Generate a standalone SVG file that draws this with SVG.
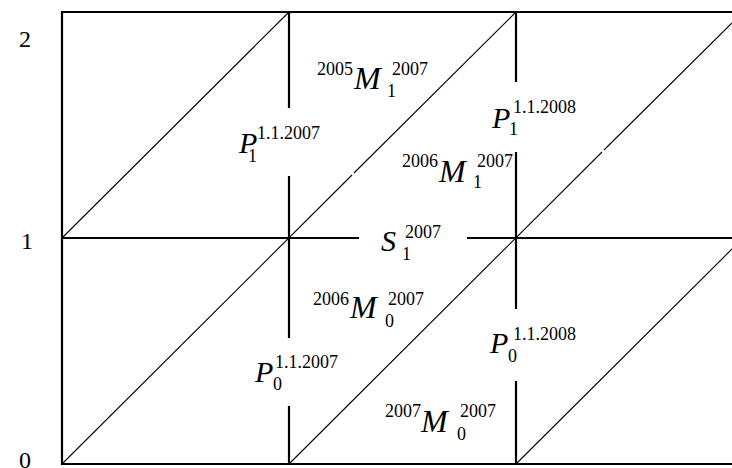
<svg xmlns="http://www.w3.org/2000/svg" width="732" height="468" viewBox="0 0 732 468">
<style>
.thick{stroke:#000;stroke-width:2.2;fill:none}
.thin{stroke:#000;stroke-width:1.1;fill:none}
.big{font-family:"Times New Roman","Liberation Serif",Times,serif;font-style:italic;font-size:30px}
.bigm{font-family:"Times New Roman","Liberation Serif",Times,serif;font-style:italic;font-size:32px}
.sm{font-family:"Times New Roman","Liberation Serif",Times,serif;font-size:18px}
.ax{font-family:"Times New Roman","Liberation Serif",Times,serif;font-size:24px;text-anchor:middle}
</style>
<rect width="732" height="468" fill="#fff"/>
<g id="connectors">
<line class="thick" x1="62" y1="12" x2="732" y2="12"/>
<line class="thick" x1="62" y1="464" x2="732" y2="464"/>
<line class="thick" x1="62" y1="11" x2="62" y2="465"/>
<line class="thick" x1="62" y1="238" x2="359" y2="238"/>
<line class="thick" x1="467" y1="238" x2="732" y2="238"/>
<line class="thick" x1="289" y1="12" x2="289" y2="108"/>
<line class="thick" x1="289" y1="176" x2="289" y2="338"/>
<line class="thick" x1="289" y1="406" x2="289" y2="464"/>
<line class="thick" x1="516" y1="12" x2="516" y2="82"/>
<line class="thick" x1="516" y1="152" x2="516" y2="309"/>
<line class="thick" x1="516" y1="381" x2="516" y2="464"/>
<line class="thin" x1="62" y1="238" x2="289" y2="12"/>
<line class="thin" x1="62" y1="464" x2="352" y2="175"/>
<line class="thin" x1="354" y1="173" x2="516" y2="12"/>
<line class="thin" x1="289" y1="464" x2="602" y2="152"/>
<line class="thin" x1="604" y1="150" x2="732" y2="23"/>
<line class="thin" x1="516" y1="464" x2="732" y2="249"/>
</g>
<g id="axis">
<text class="ax" x="25" y="47">2</text>
<text class="ax" x="27" y="249">1</text>
<text class="ax" x="25" y="468">0</text>
</g>
<g id="P1-2007">
<text class="big" x="239" y="153">P</text>
<text class="sm" x="257" y="139">1.1.2007</text>
<text class="sm" x="248" y="162">1</text>
</g>
<g id="M1-2005">
<text class="sm" x="317" y="75">2005</text>
<text class="bigm" x="354" y="89">M</text>
<text class="sm" x="392" y="75">2007</text>
<text class="sm" x="387" y="97">1</text>
</g>
<g id="P1-2008">
<text class="big" x="492" y="128">P</text>
<text class="sm" x="513" y="113">1.1.2008</text>
<text class="sm" x="509" y="135">1</text>
</g>
<g id="M1-2006">
<text class="sm" x="402" y="167">2006</text>
<text class="bigm" x="439" y="182">M</text>
<text class="sm" x="477" y="167">2007</text>
<text class="sm" x="473" y="188">1</text>
</g>
<g id="S1-2007">
<text class="big" x="381" y="251">S</text>
<text class="sm" x="405" y="238">2007</text>
<text class="sm" x="402" y="260">1</text>
</g>
<g id="M0-2006">
<text class="sm" x="313" y="305">2006</text>
<text class="bigm" x="350" y="318">M</text>
<text class="sm" x="388" y="305">2007</text>
<text class="sm" x="385" y="327">0</text>
</g>
<g id="P0-2007">
<text class="big" x="255" y="382">P</text>
<text class="sm" x="275" y="368">1.1.2007</text>
<text class="sm" x="273" y="390">0</text>
</g>
<g id="P0-2008">
<text class="big" x="490" y="353">P</text>
<text class="sm" x="513" y="340">1.1.2008</text>
<text class="sm" x="508" y="362">0</text>
</g>
<g id="M0-2007">
<text class="sm" x="385" y="417">2007</text>
<text class="bigm" x="421" y="432">M</text>
<text class="sm" x="460" y="417">2007</text>
<text class="sm" x="457" y="440">0</text>
</g>
</svg>
